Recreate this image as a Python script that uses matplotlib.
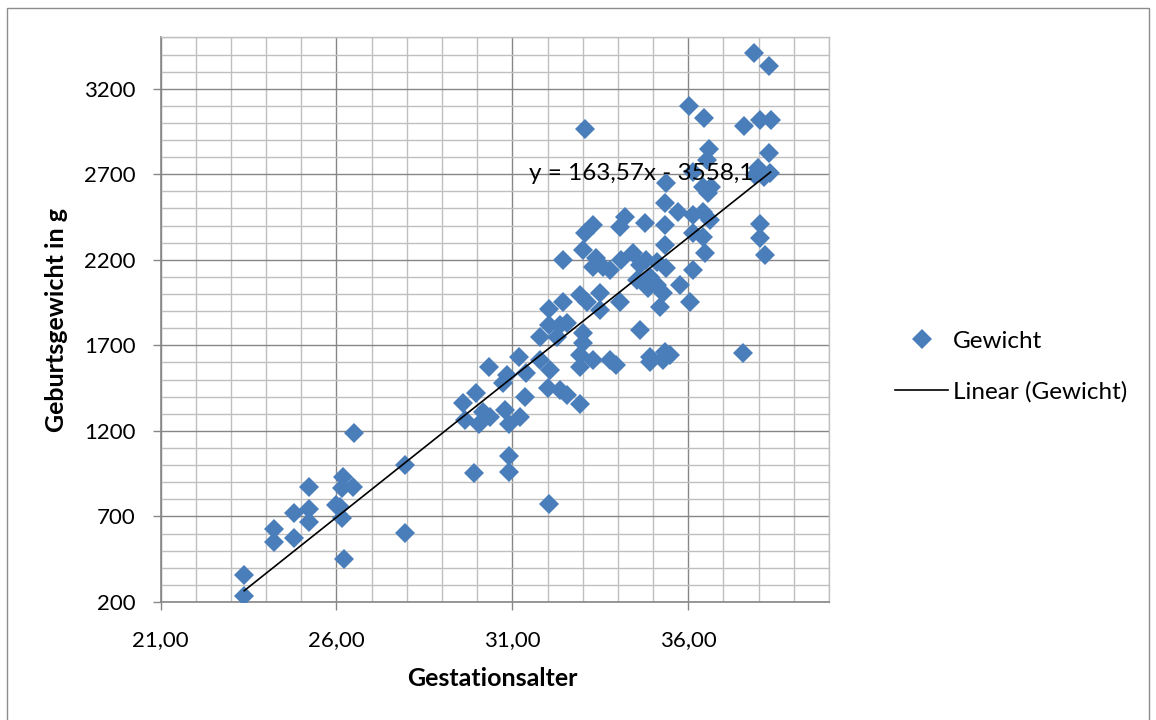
import matplotlib
matplotlib.use("Agg")
import matplotlib.pyplot as plt
from matplotlib.lines import Line2D
from matplotlib.patches import Rectangle
import numpy as np

# ---- data ----
gestationsalter = [
    23.38, 23.38, 24.23, 24.23, 24.79, 24.79, 25.23, 25.23, 25.23, 26.19,
    26.48, 26.15, 26.10, 26.00, 26.15, 26.21, 26.51, 27.95, 27.95,
    32.05, 29.91, 30.91, 30.91, 32.92, 31.36, 30.34, 31.19, 29.60, 29.65,
    29.98, 30.06, 30.36, 30.79, 30.91, 31.21, 30.17, 30.84, 30.74, 31.40,
    31.78, 32.05, 32.05, 32.35, 32.26, 31.78, 32.07, 32.02, 32.35, 32.54,
    32.44, 32.92, 33.11, 33.01, 33.01, 32.92, 32.92, 33.30,
    35.38, 35.33, 35.71, 36.14, 34.20, 34.05, 34.76, 35.33, 33.30, 33.06,
    35.33, 36.14, 33.01, 32.44, 33.39, 33.30, 33.58, 33.77, 34.10, 34.43,
    34.81, 35.10, 35.38, 34.53, 34.91, 34.86, 35.10, 35.28, 35.76, 35.19,
    36.04, 36.14, 33.49, 34.05, 33.49, 34.62, 33.77, 33.96, 34.91, 35.33,
    35.47, 35.28, 32.54,
    38.03, 38.03, 38.17, 37.56, 36.47, 36.42, 34.62, 34.91,
    37.87, 38.30, 36.02, 36.45, 37.59, 38.03, 38.34, 38.30, 36.59, 36.52,
    37.98, 37.89, 38.32, 38.15, 36.14, 36.42, 36.66, 36.56, 36.42, 36.61,
    33.06,
]
gewicht = [
    237, 358, 625, 552, 718, 572, 870, 742, 669, 932,
    870, 865, 757, 767, 689, 450, 1186, 1001, 605,
    773, 956, 1053, 962, 1357, 1400, 1572, 1630, 1361, 1264,
    1420, 1240, 1283, 1322, 1240, 1283, 1312, 1527, 1478, 1537,
    1747, 1911, 1819, 1819, 1751, 1614, 1556, 1449, 1439, 1410,
    1955, 1994, 1955, 1771, 1712, 1644, 1575, 1614,
    2647, 2530, 2481, 2462, 2452, 2394, 2413, 2404, 2404, 2355,
    2287, 2355, 2257, 2199, 2209, 2160, 2160, 2141, 2199, 2238,
    2199, 2189, 2150, 2082, 2101, 2034, 2053, 2004, 2053, 1926,
    1955, 2141, 2004, 1955, 1907, 1790, 1614, 1585, 1634, 1663,
    1644, 1614, 1829,
    2409, 2326, 2228, 1654, 2238, 2335, 2170, 1605,
    3407, 3333, 3099, 3027, 2982, 3017, 3017, 2826, 2846, 2783,
    2735, 2696, 2706, 2686, 2715, 2627, 2627, 2589, 2481, 2433,
    2965,
]
trend_slope = 163.57
trend_intercept = -3558.1
trend_label = "y = 163,57x - 3558,1"

xtick_values = [21, 26, 31, 36]
xtick_labels = ["21,00", "26,00", "31,00", "36,00"]
ytick_values = [200, 700, 1200, 1700, 2200, 2700, 3200]
ytick_labels = ["200", "700", "1200", "1700", "2200", "2700", "3200"]

series_name = "Gewicht"
trend_name = "Linear (Gewicht)"
x_title = "Gestationsalter"
y_title = "Geburtsgewicht in g"

# ---- style ----
plt.rcParams['font.family'] = ['Lato', 'DejaVu Sans']
FS = 16
FS_TEXT = 17.5
FS_TITLE = 18
BLUE = '#4A7EBB'
MAJOR = '#868686'
MINOR = '#BFBFBF'

W, H = 1156, 720
fig = plt.figure(figsize=(W / 100, H / 100), dpi=100)
fig.patch.set_facecolor('white')

ax = fig.add_axes([160.5 / W, 1 - 602 / H, (829 - 160.5) / W, (602 - 37.4) / H])
ax.set_xlim(21, 40)
ax.set_ylim(200, 3500)

ax.set_xticks(xtick_values)
ax.set_xticklabels(xtick_labels)
ax.set_xticks(np.arange(21, 41, 1), minor=True)
ax.set_yticks(ytick_values)
ax.set_yticklabels(ytick_labels)
ax.set_yticks(np.arange(200, 3501, 100), minor=True)

ax.set_axisbelow(True)
ax.grid(which='minor', color=MINOR, linewidth=1.0)
ax.grid(which='major', color=MAJOR, linewidth=1.0)

ax.tick_params(which='major', direction='out', length=6, width=1.0, color=MAJOR,
               labelsize=FS, labelcolor='black')
ax.tick_params(axis='x', which='major', pad=14)
ax.tick_params(axis='y', which='major', pad=12)
ax.tick_params(which='minor', length=0)

for s in ['left', 'bottom']:
    ax.spines[s].set_color(MAJOR)
    ax.spines[s].set_linewidth(1.2)
for s in ['top', 'right']:
    ax.spines[s].set_color(MINOR)
    ax.spines[s].set_linewidth(1.0)

ax.plot(gestationsalter, gewicht, linestyle='none', marker='D', markersize=10.5,
        color=BLUE, markeredgewidth=0, zorder=3)

xs = np.array([min(gestationsalter), max(gestationsalter)])
ax.plot(xs, trend_slope * xs + trend_intercept, color='black', linewidth=1.2, zorder=4)

ax.text(31.47, 2702, trend_label, fontsize=FS_TEXT, ha='left', va='center', zorder=5)

fig.text(492 / W, 1 - 678 / H, x_title, fontsize=FS_TITLE, fontweight='bold',
         ha='center', va='center')
fig.text(57 / W, 1 - 320 / H, y_title, fontsize=FS_TITLE, fontweight='bold',
         ha='center', va='center', rotation=90)

handles = [
    Line2D([], [], linestyle='none', marker='D', markersize=10.5, color=BLUE, markeredgewidth=0),
    Line2D([], [], color='black', linewidth=1.2),
]
fig.legend(handles, [series_name, trend_name], loc='center left',
           bbox_to_anchor=(895 / W, 1 - 366.5 / H), frameon=False, fontsize=FS_TEXT,
           handlelength=2.2, handletextpad=0.2, labelspacing=1.2,
           borderpad=0, borderaxespad=0)

fig.patches.append(Rectangle((7 / W, -0.01), (1149 - 7) / W, (712 / H) + 0.01,
                             transform=fig.transFigure, fill=False,
                             edgecolor='#8C8C8C', linewidth=1.0))

fig.savefig('out.png', dpi=100, facecolor='white')
